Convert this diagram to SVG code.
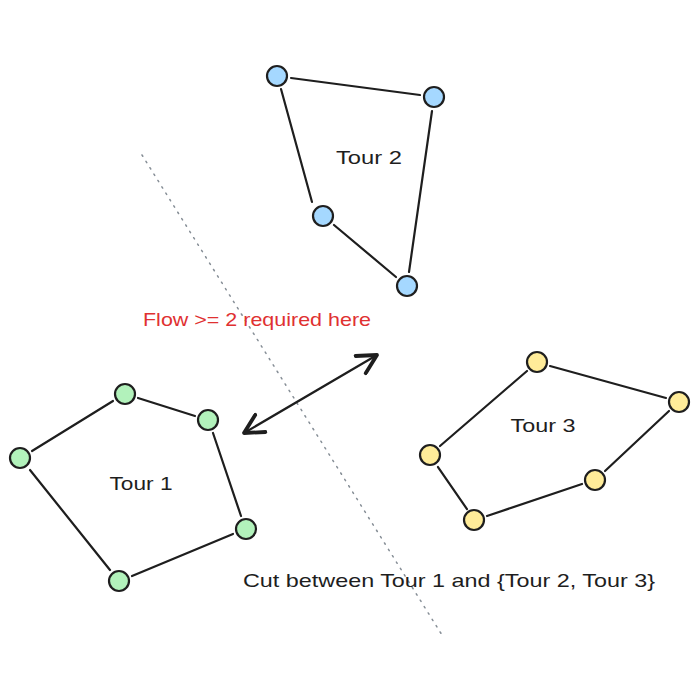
<svg xmlns="http://www.w3.org/2000/svg" width="700" height="700" viewBox="0 0 700 700">
<defs>
<style>
.n circle{stroke:#1e1e1e;stroke-width:2.2}
.blue{fill:#a5d8ff}.green{fill:#b2f2bb}.yellow{fill:#ffec99}
.e line{stroke:#1e1e1e;stroke-width:2.2;stroke-linecap:round}
.t{font-family:"Liberation Sans",Arial,sans-serif;font-size:19px;fill:#1e1e1e;text-anchor:middle}
</style>
<marker id="ah" viewBox="0 0 24 24" refX="21" refY="12" markerWidth="24" markerHeight="24" markerUnits="userSpaceOnUse" orient="auto-start-reverse">
<path d="M2 2 L21 12 L2 22" fill="none" stroke="#1e1e1e" stroke-width="3.8" stroke-linecap="round" stroke-linejoin="round"/>
</marker>
</defs>
<rect width="700" height="700" fill="#fff"/>
<line x1="142" y1="155" x2="442" y2="635" stroke="#868e96" stroke-width="1.5" stroke-dasharray="1.5 6" stroke-linecap="round"/>
<g id="connectors" class="e">
<line x1="291" y1="78" x2="420" y2="95"/>
<line x1="432" y1="111" x2="409" y2="272"/>
<line x1="281" y1="89" x2="312" y2="202"/>
<line x1="334" y1="225" x2="396" y2="277"/>
<line x1="32" y1="451" x2="113" y2="401"/>
<line x1="138" y1="398" x2="195" y2="416"/>
<line x1="213" y1="433" x2="241" y2="516"/>
<line x1="233" y1="534" x2="132" y2="576"/>
<line x1="110" y1="570" x2="30" y2="470"/>
<line x1="550" y1="366" x2="666" y2="398"/>
<line x1="669" y1="411" x2="605" y2="471"/>
<line x1="582" y1="484" x2="487" y2="516"/>
<line x1="467" y1="509" x2="438" y2="467"/>
<line x1="440" y1="446" x2="527" y2="371"/>
<line x1="244" y1="433" x2="377" y2="355" stroke-width="4" marker-start="url(#ah)" marker-end="url(#ah)"/>
</g>
<g id="tour2" class="n">
<circle class="blue" cx="277" cy="76" r="10"/>
<circle class="blue" cx="434" cy="97" r="10"/>
<circle class="blue" cx="323" cy="216" r="10"/>
<circle class="blue" cx="407" cy="286" r="10"/>
</g>
<g id="tour1" class="n">
<circle class="green" cx="20" cy="458" r="10"/>
<circle class="green" cx="125" cy="394" r="10"/>
<circle class="green" cx="208" cy="420" r="10"/>
<circle class="green" cx="246" cy="529" r="10"/>
<circle class="green" cx="119" cy="581" r="10"/>
</g>
<g id="tour3" class="n">
<circle class="yellow" cx="537" cy="362" r="10"/>
<circle class="yellow" cx="679" cy="402" r="10"/>
<circle class="yellow" cx="430" cy="455" r="10"/>
<circle class="yellow" cx="595" cy="480" r="10"/>
<circle class="yellow" cx="474" cy="520" r="10"/>
</g>
<g id="labels">
<text class="t" x="369" y="164" textLength="66" lengthAdjust="spacingAndGlyphs">Tour 2</text>
<text class="t" x="141" y="490" textLength="63" lengthAdjust="spacingAndGlyphs">Tour 1</text>
<text class="t" x="543" y="432" textLength="65" lengthAdjust="spacingAndGlyphs">Tour 3</text>
<text class="t" x="257" y="326" style="fill:#e03131" textLength="228" lengthAdjust="spacingAndGlyphs">Flow &gt;= 2 required here</text>
<text class="t" x="449" y="587" textLength="412" lengthAdjust="spacingAndGlyphs">Cut between Tour 1 and {Tour 2, Tour 3}</text>
</g>
</svg>
